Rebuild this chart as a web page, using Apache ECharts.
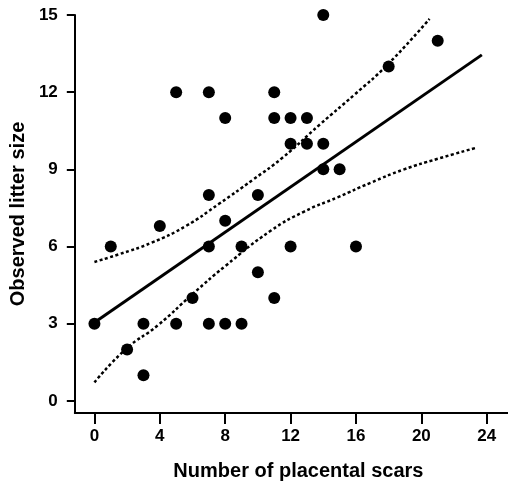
<!DOCTYPE html>
<html>
<head>
<meta charset="utf-8">
<script src="https://cdn.jsdelivr.net/npm/echarts@6/dist/echarts.min.js"></script>
<style>
  html, body { margin: 0; padding: 0; background: #fff; }
  #chart { width: 508px; height: 486px; }
</style>
</head>
<body>
<div id="chart"></div>
<script>
// observed points: [placental scars, litter size]
const scars = [0, 1, 2, 3, 3, 4, 5, 5, 6, 7, 7, 7, 7, 8, 8, 8, 9, 9, 10, 10, 11, 11, 11, 12, 12, 12, 13, 13, 14, 14, 14, 15, 16, 18, 21];
const litter = [3, 6, 2, 1, 3, 6.8, 12, 3, 4, 12, 8, 6, 3, 11, 7, 3, 6, 3, 8, 5, 12, 11, 4, 11, 10, 6, 11, 10, 15, 10, 9, 9, 6, 13, 14];

// fitted line end points
const fitX = [0, 23.7];
const fitY = [3.05, 13.45];

// confidence band
const upperX = [0, 1.5, 3.5, 5.6, 7.6, 9.7, 11.5, 13.8, 15.9, 17.9, 20.5];
const upperY = [5.4, 5.7, 6.15, 6.8, 7.65, 8.6, 9.45, 10.75, 11.9, 13.05, 14.85];
const lowerX = [0, 1.9, 3.9, 6.0, 8.0, 10.8, 12.8, 14.9, 16.9, 18.9, 21.0, 23.3];
const lowerY = [0.72, 2.0, 2.95, 4.15, 5.24, 6.62, 7.35, 7.92, 8.48, 8.99, 9.41, 9.83];

const xTicks = [0, 4, 8, 12, 16, 20, 24];
const yTicks = [0, 3, 6, 9, 12, 15];

const zip = (a, b) => a.map((v, i) => [v, b[i]]);

const ink = '#000';
const labelFont = { color: ink, fontSize: 17, fontWeight: 'bold', fontFamily: 'Liberation Sans' };

const chart = echarts.init(document.getElementById('chart'));
chart.setOption({
  animation: false,
  grid: { left: 74, right: 0, top: 15, bottom: 72 },
  xAxis: {
    type: 'value',
    min: -1.2,
    max: 25.3,
    name: 'Number of placental scars',
    nameLocation: 'middle',
    nameGap: 48,
    nameTextStyle: { color: ink, fontSize: 20, fontWeight: 'bold', fontFamily: 'Liberation Sans', padding: [0, 0, 0, 14] },
    axisLine: { show: true, onZero: false, lineStyle: { color: ink, width: 2 } },
    axisTick: { show: true, customValues: xTicks, length: 11, lineStyle: { color: ink, width: 2 } },
    axisLabel: Object.assign({ customValues: xTicks, margin: 15 }, labelFont),
    splitLine: { show: false }
  },
  yAxis: {
    type: 'value',
    min: -0.47,
    max: 15,
    name: 'Observed litter size',
    nameLocation: 'middle',
    nameGap: 44,
    nameTextStyle: { color: ink, fontSize: 20, fontWeight: 'bold', fontFamily: 'Liberation Sans' },
    axisLine: { show: true, onZero: false, lineStyle: { color: ink, width: 2 } },
    axisTick: { show: true, customValues: yTicks, length: 8, lineStyle: { color: ink, width: 2 } },
    axisLabel: Object.assign({ customValues: yTicks, margin: 17 }, labelFont),
    splitLine: { show: false }
  },
  series: [
    {
      type: 'line',
      data: zip(fitX, fitY),
      showSymbol: false,
      lineStyle: { color: ink, width: 3 },
      z: 2
    },
    {
      type: 'line',
      data: zip(upperX, upperY),
      smooth: true,
      showSymbol: false,
      lineStyle: { color: ink, width: 2.5, type: [3, 2.5] },
      z: 2
    },
    {
      type: 'line',
      data: zip(lowerX, lowerY),
      smooth: true,
      showSymbol: false,
      lineStyle: { color: ink, width: 2.5, type: [3, 2.5] },
      z: 2
    },
    {
      type: 'scatter',
      data: zip(scars, litter),
      symbol: 'circle',
      symbolSize: 12,
      itemStyle: { color: ink, opacity: 1 },
      z: 3
    }
  ]
});
</script>
</body>
</html>
